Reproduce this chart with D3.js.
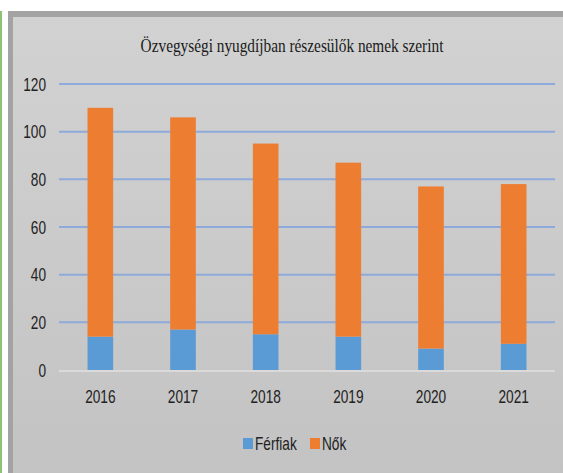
<!DOCTYPE html>
<html>
<head>
<meta charset="utf-8">
<script src="https://cdn.jsdelivr.net/npm/d3@7/dist/d3.min.js"></script>
<style>
  html, body { margin: 0; padding: 0; background: #ffffff; }
  svg { display: block; }
</style>
</head>
<body>
<svg id="chart" width="563" height="473"></svg>
<script>
// Özvegységi nyugdíjban részesülők (ezer fő), nemek szerint
const years = ["2016", "2017", "2018", "2019", "2020", "2021"];
const ferfiak = [14, 17, 15, 14, 9, 11];
const nok = [96, 89, 80, 73, 68, 67];
const seriesNames = ["Férfiak", "Nők"];
const seriesColors = ["#5b9bd5", "#ed7d31"];
const yTicks = [0, 20, 40, 60, 80, 100, 120];
const title = "Özvegységi nyugdíjban részesülők nemek szerint";

const W = 563, H = 473;
const svg = d3.select("#chart");
const sansFont = "'Liberation Sans', Arial, sans-serif";
const squeeze = 0.76;   // condensed look for the sans labels
const fontSize = 18;

// text placed at (x, y) and condensed horizontally around its anchor
function label(parent, x, y, txt, anchor, sx) {
  return parent.append("text")
    .attr("transform", `translate(${x},${y}) scale(${sx},1)`)
    .attr("text-anchor", anchor)
    .attr("font-family", sansFont)
    .attr("font-size", fontSize)
    .attr("fill", "#222")
    .text(txt);
}

// panel background with a soft vertical gradient
const defs = svg.append("defs");
const grad = defs.append("linearGradient").attr("id", "panelFill")
  .attr("x1", 0).attr("y1", 0).attr("x2", 0).attr("y2", 1);
grad.append("stop").attr("offset", "0%").attr("stop-color", "#d2d2d2");
grad.append("stop").attr("offset", "100%").attr("stop-color", "#c3c3c3");

// green frame line on the left
svg.append("rect").attr("x", 0).attr("y", 11).attr("width", 2).attr("height", H - 11)
  .attr("fill", "#8cc474");

// outer dark border, then inner panel
svg.append("rect").attr("x", 8).attr("y", 11).attr("width", W - 8).attr("height", H - 11)
  .attr("fill", "#a3a3a3");
svg.append("rect").attr("x", 13).attr("y", 17).attr("width", W - 13).attr("height", H - 17)
  .attr("fill", "url(#panelFill)");

// title, condensed to its set width
const titleEl = svg.append("text")
  .attr("text-anchor", "middle")
  .attr("font-family", "'Liberation Serif', 'Times New Roman', serif")
  .attr("font-size", 18)
  .attr("fill", "#1a1a1a")
  .text(title);
const titleW = titleEl.node().getComputedTextLength();
titleEl.attr("transform", `translate(292,52) scale(${303 / titleW},1)`);

const plot = { left: 59, right: 555, top: 84, bottom: 370 };

const x = d3.scaleBand().domain(years).range([plot.left, plot.right]).paddingInner(0.69).paddingOuter(0.345);
const y = d3.scaleLinear().domain([0, 120]).range([plot.bottom, plot.top]);

// gridlines
svg.append("g").selectAll("line").data(yTicks.filter(d => d > 0)).join("line")
  .attr("x1", plot.left).attr("x2", plot.right)
  .attr("y1", d => y(d)).attr("y2", d => y(d))
  .attr("stroke", "#8eaadb").attr("stroke-width", 2);

// stacked bars
const rows = years.map((yr, i) => ({ year: yr, "Férfiak": ferfiak[i], "Nők": nok[i] }));
const stacked = d3.stack().keys(seriesNames)(rows);
svg.append("g").selectAll("g").data(stacked).join("g")
  .attr("fill", (d, i) => seriesColors[i])
  .selectAll("rect").data(d => d).join("rect")
  .attr("x", d => x(d.data.year))
  .attr("width", x.bandwidth())
  .attr("y", d => y(d[1]))
  .attr("height", d => y(d[0]) - y(d[1]));

// baseline
svg.append("line")
  .attr("x1", plot.left).attr("x2", plot.right)
  .attr("y1", y(0) + 1).attr("y2", y(0) + 1)
  .attr("stroke", "#dadada").attr("stroke-width", 2);

// y tick labels
const yLab = svg.append("g");
yTicks.forEach(t => label(yLab, 46, y(t) + 6.5, String(t), "end", squeeze));

// x tick labels
const xLab = svg.append("g");
years.forEach(yr => label(xLab, x(yr) + x.bandwidth() / 2, 403, yr, "middle", squeeze));

// legend
const legend = svg.append("g");
const legendX = [243, 310];
seriesNames.forEach((name, i) => {
  const g = legend.append("g").attr("transform", `translate(${legendX[i]},438)`);
  g.append("rect").attr("width", 10).attr("height", 11).attr("fill", seriesColors[i]);
  label(g, 12, 11.5, name, "start", squeeze);
});
</script>
</body>
</html>
